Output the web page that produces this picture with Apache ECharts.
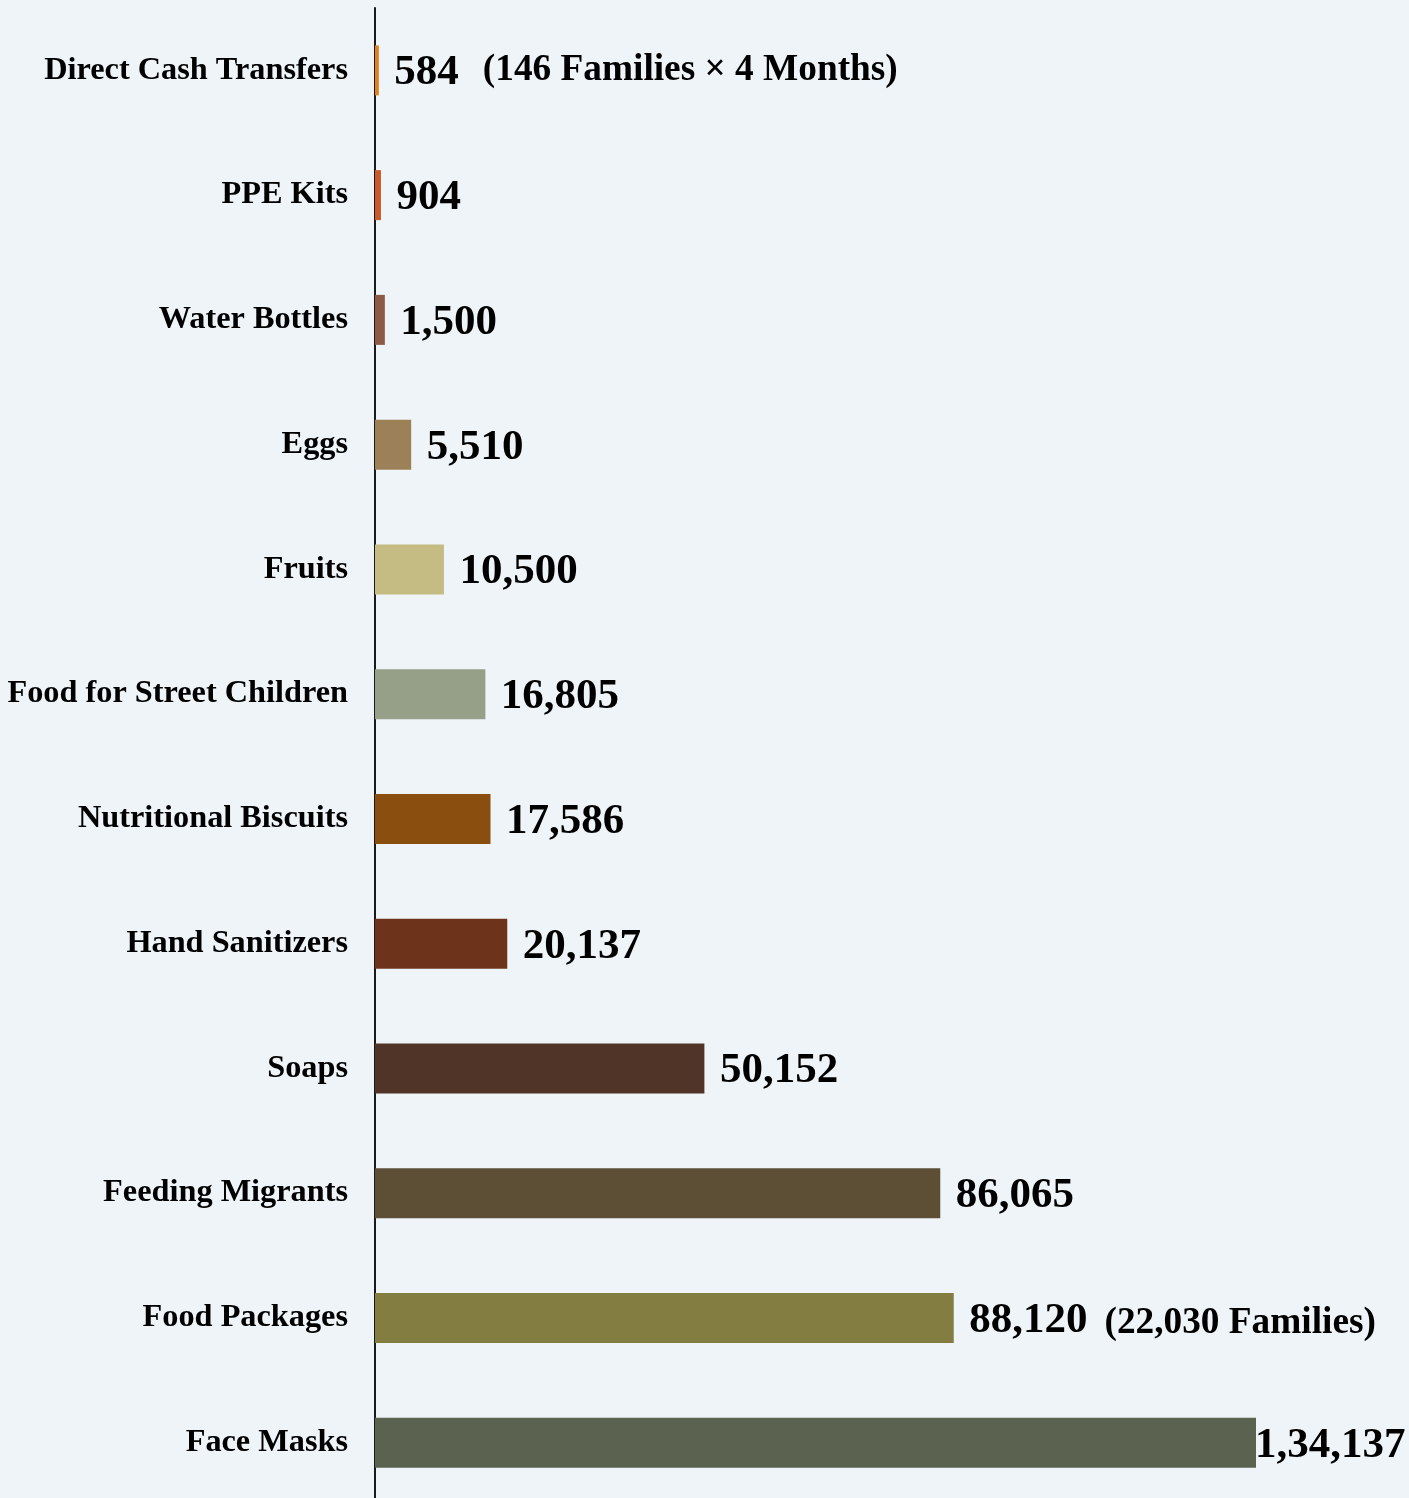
<!DOCTYPE html>
<html>
<head>
<meta charset="utf-8">
<script src="https://cdn.jsdelivr.net/npm/echarts@6/dist/echarts.min.js"></script>
<style>
  html, body { margin: 0; padding: 0; background: #EFF4F8; overflow: hidden; }
  #chart { width: 1409px; height: 1506px; }
</style>
</head>
<body>
<div id="chart"></div>
<script>
const categories = [
  'Direct Cash Transfers', 'PPE Kits', 'Water Bottles', 'Eggs', 'Fruits',
  'Food for Street Children', 'Nutritional Biscuits', 'Hand Sanitizers',
  'Soaps', 'Feeding Migrants', 'Food Packages', 'Face Masks'
];
const values = [584, 904, 1500, 5510, 10500, 16805, 17586, 20137, 50152, 86065, 88120, 134137];
const notes = ['(146 Families × 4 Months)', '', '', '', '', '', '', '', '', '', '(22,030 Families)', ''];
const colors = [
  '#E0821A', '#C85A2A', '#8C5A45', '#9C8058', '#C4BC82', '#96A088',
  '#8A4F0F', '#6E341B', '#503427', '#5C4F35', '#837D42', '#5B6350'
];

function fmtIN(n) {
  const s = String(n);
  if (s.length <= 3) return s;
  const last3 = s.slice(-3);
  let rest = s.slice(0, -3);
  const parts = [];
  while (rest.length > 2) { parts.unshift(rest.slice(-2)); rest = rest.slice(0, -2); }
  if (rest) parts.unshift(rest);
  return parts.join(',') + ',' + last3;
}

const serif = "'Liberation Serif', 'Times New Roman', Times, serif";
const lastIdx = values.length - 1;

const seriesData = values.map((v, i) => {
  const item = { value: v, itemStyle: { color: colors[i] } };
  if (i === lastIdx) item.label = { distance: -1 };
  return item;
});

const chart = echarts.init(document.getElementById('chart'), null, { renderer: 'canvas' });
chart.setOption({
  backgroundColor: '#EFF4F8',
  animation: false,
  grid: { left: 375, top: 8, width: 881, height: 1497, containLabel: false },
  xAxis: {
    type: 'value', min: 0, max: 'dataMax', show: false
  },
  yAxis: {
    type: 'category',
    data: categories,
    inverse: true,
    axisLine: { show: true, lineStyle: { color: '#1a1a1a', width: 2 } },
    axisTick: { show: false },
    splitLine: { show: false },
    axisLabel: {
      margin: 27,
      color: '#000',
      fontFamily: serif,
      fontWeight: 'bold',
      fontSize: 32.3,
      padding: [9, 0, 0, 0]
    }
  },
  series: [{
    type: 'bar',
    data: seriesData,
    barWidth: 50,
    z: 1,
    label: {
      show: true,
      position: 'right',
      distance: 15.5,
      offset: [0, 3],
      formatter: (p) => {
        const n = notes[p.dataIndex];
        let s = '{v|' + fmtIN(p.value) + '}';
        if (n) s += (p.dataIndex === 0 ? '{n1|' : '{n2|') + n + '}';
        return s;
      },
      rich: {
        v: { fontFamily: serif, fontWeight: 'bold', fontSize: 43, color: '#000' },
        n1: { fontFamily: serif, fontWeight: 'bold', fontSize: 37.3, color: '#000', padding: [0, 0, 6, 24] },
        n2: { fontFamily: serif, fontWeight: 'bold', fontSize: 37.3, color: '#000', padding: [0, 0, -4, 17] }
      }
    }
  }]
});
</script>
</body>
</html>
